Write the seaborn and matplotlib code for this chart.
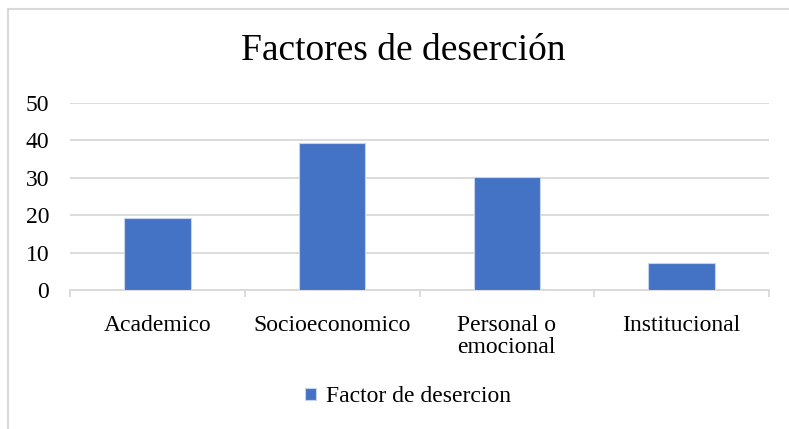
import seaborn as sns
import matplotlib.pyplot as plt
import pandas as pd

categorias = ["Academico", "Socioeconomico", "Personal o\nemocional", "Institucional"]
valores = [19.3, 39.4, 30.1, 7.1]
serie = "Factor de desercion"

sns.set_style("white")
plt.rcParams['font.family'] = ['Liberation Serif', 'DejaVu Serif']
plt.rcParams['text.color'] = 'black'
plt.rcParams['xtick.color'] = 'black'
plt.rcParams['ytick.color'] = 'black'

df = pd.DataFrame({"categoria": categorias, "valor": valores})

fig = plt.figure(figsize=(7.89, 4.29), dpi=100)
ax = fig.add_axes([70 / 789, 1 - 290 / 429, 699 / 789, 187 / 429])

sns.barplot(data=df, x="categoria", y="valor", color="#4472c4", width=0.38,
            saturation=1, ax=ax, label=serie, zorder=3,
            edgecolor="#c5d3ee", linewidth=0.8)
ax.set_xlim(-0.5, 3.5)
ax.set_ylim(0, 50)
ax.set_yticks([0, 10, 20, 30, 40, 50])
ax.yaxis.grid(True, color="#d9d9d9", linewidth=1.3, zorder=0)
ax.set_xlabel("")
ax.set_ylabel("")
for s in ["left", "right", "top"]:
    ax.spines[s].set_visible(False)
ax.spines["bottom"].set_color("#d9d9d9")
ax.spines["bottom"].set_linewidth(1.3)
ax.set_xticks([-0.5, 0.5, 1.5, 2.5, 3.5], minor=True)
ax.tick_params(axis="x", which="minor", length=5, color="#d9d9d9", width=1.3, bottom=True)
ax.tick_params(axis="x", which="major", length=0, pad=18, labelsize=17)
ax.tick_params(axis="y", length=0, pad=15, labelsize=17)
for lbl in ax.get_xticklabels():
    lbl.set_verticalalignment("top")
    lbl.set_linespacing(1.05)
    lbl.set_multialignment("left")

fig.text(403 / 789, 1 - 51 / 429, "Factores de deserción", ha="center", va="center", fontsize=27)
ax.legend(loc="center", bbox_to_anchor=(408 / 789, 1 - 397 / 429), bbox_transform=fig.transFigure,
          frameon=False, fontsize=17, handlelength=0.45, handleheight=0.45, handletextpad=0.4)

fig.add_artist(plt.Line2D([8 / 789, 8 / 789, 1], [0, 1 - 9 / 429, 1 - 9 / 429],
                          transform=fig.transFigure, color="#d9d9d9", linewidth=1.5))
fig.savefig("out.png", dpi=100)
